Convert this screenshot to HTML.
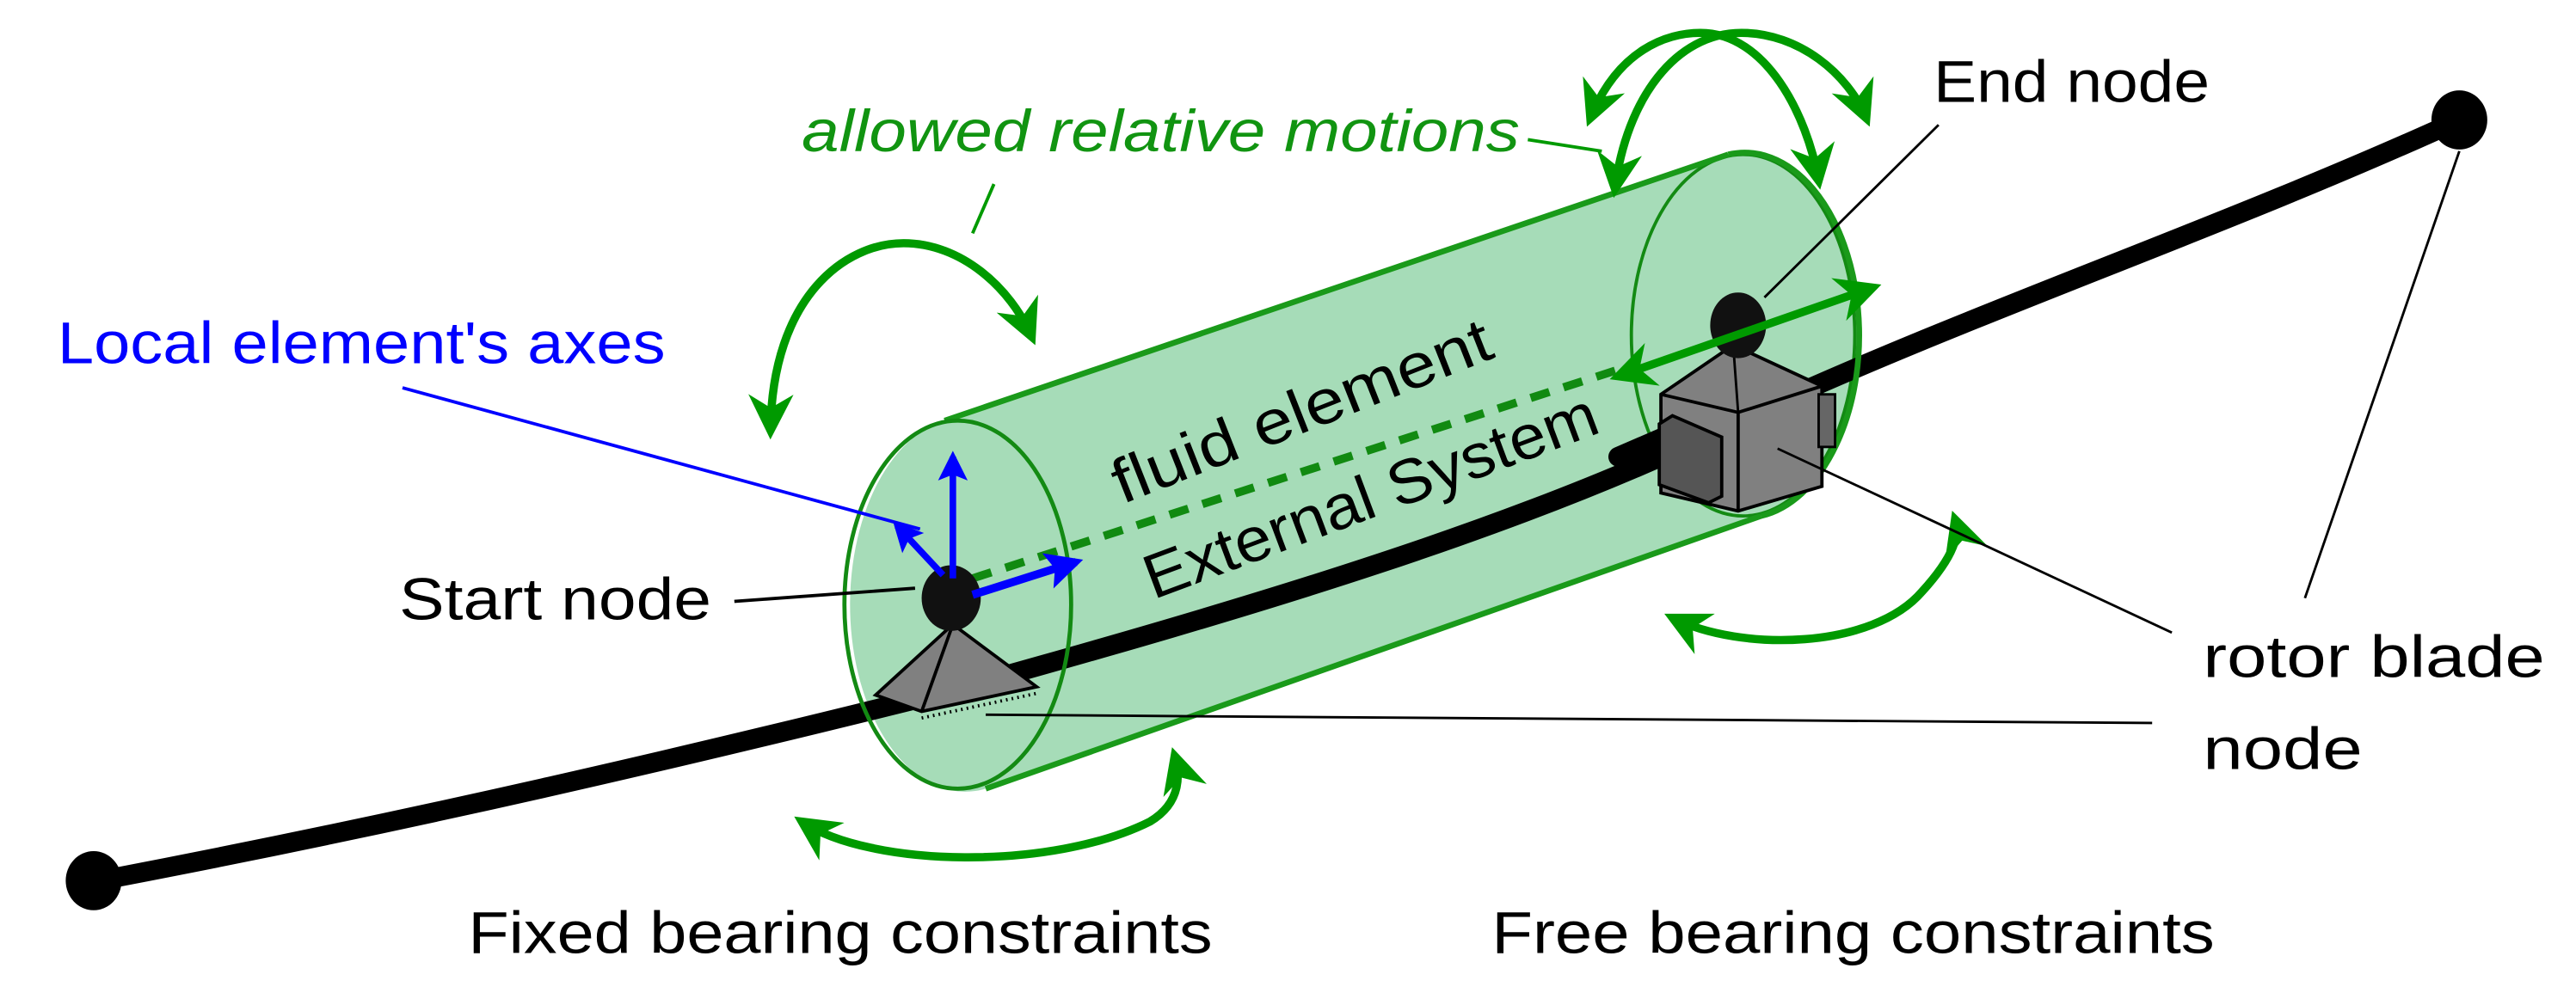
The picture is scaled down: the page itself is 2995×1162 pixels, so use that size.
<!DOCTYPE html>
<html><head><meta charset="utf-8"><style>
html,body{margin:0;padding:0;background:#fff;}
svg{display:block;}
text{font-family:"Liberation Sans",sans-serif;}
</style></head><body>
<svg width="2995" height="1162" viewBox="0 0 1568 608" preserveAspectRatio="none" xmlns="http://www.w3.org/2000/svg">
<defs>
<marker id="ga" viewBox="0 0 10 10" refX="8" refY="5" markerWidth="6.5" markerHeight="5.5" orient="auto-start-reverse" markerUnits="strokeWidth">
<path d="M0,0 L10,5 L0,10 L3,5 Z" fill="#009a00"/></marker>
<marker id="ba" viewBox="0 0 10 10" refX="8" refY="5" markerWidth="5.5" markerHeight="4.5" orient="auto" markerUnits="strokeWidth">
<path d="M0,0 L10,5 L0,10 L2,5 Z" fill="#0000ff"/></marker>
</defs>

<path d="M575,256 L1052,94 A69,110 0 0 1 1072,314 L600,480 A69,112 0 0 1 575,256 Z" fill="#a6dcb8"/>
<ellipse cx="1061" cy="204" rx="68" ry="110" fill="none" stroke="#138a13" stroke-width="2"/>
<path d="M55,537 C250,500 420,460 580,420 C760,370 930,320 1060,255 C1200,190 1350,140 1497,73" fill="none" stroke="#000" stroke-width="12" stroke-linecap="round"/>
<ellipse cx="57" cy="536" rx="17" ry="18" fill="#000"/>
<ellipse cx="1497" cy="73" rx="17" ry="18" fill="#000"/>
<path d="M575,256 L1052,94" stroke="#1a9a1a" stroke-width="3.5" fill="none"/>
<path d="M600,480 L1072,314" stroke="#1a9a1a" stroke-width="3.5" fill="none"/>
<path d="M1052,94 A69,110 0 0 1 1072,314" stroke="#1a9a1a" stroke-width="3.5" fill="none"/>
<ellipse cx="583" cy="368" rx="69" ry="112" fill="none" stroke="#138a13" stroke-width="2.5"/>

<line x1="592" y1="352" x2="985" y2="225" stroke="#118a11" stroke-width="5" stroke-dasharray="12,9"/>

<text x="683" y="307" font-size="38" transform="rotate(-21.5 683 307)" textLength="245" lengthAdjust="spacingAndGlyphs">fluid element</text>
<text x="702" y="365" font-size="38" transform="rotate(-20.5 702 365)" textLength="292" lengthAdjust="spacingAndGlyphs">External System</text>

<polygon points="580,380 533,423 561,433 631,418" fill="#808080" stroke="#000" stroke-width="2"/>
<line x1="580" y1="380" x2="561" y2="433" stroke="#000" stroke-width="2"/>
<path d="M561,433 L631,418" stroke="#000" stroke-width="2" stroke-dasharray="1,2.5" transform="translate(0,4)"/>
<ellipse cx="579" cy="364" rx="18" ry="20" fill="#111"/>
<line x1="580" y1="352" x2="580" y2="278" stroke="#0000ff" stroke-width="4" marker-end="url(#ba)"/>
<line x1="574" y1="350" x2="546" y2="320" stroke="#0000ff" stroke-width="4" marker-end="url(#ba)"/>
<line x1="592" y1="362" x2="655" y2="342" stroke="#0000ff" stroke-width="5" marker-end="url(#ba)"/>

<polygon points="1011,240 1055,210 1109,235 1109,296 1058,311 1011,300" fill="#808080" stroke="#000" stroke-width="2"/>
<polyline points="1011,240 1058,251 1109,235" fill="none" stroke="#000" stroke-width="2"/>
<line x1="1058" y1="251" x2="1058" y2="311" stroke="#000" stroke-width="2"/>
<line x1="1055" y1="210" x2="1058" y2="251" stroke="#000" stroke-width="1.5"/>
<path d="M985,278 L1015,265" stroke="#000" stroke-width="12" stroke-linecap="round"/>
<polygon points="1010,258 1018,253 1048,266 1048,302 1040,306 1010,295" fill="#555" stroke="#000" stroke-width="2"/>
<rect x="1107" y="240" width="10" height="32" fill="#666" stroke="#000" stroke-width="1.5"/>
<ellipse cx="1058" cy="198" rx="17" ry="20" fill="#111"/>

<line x1="985" y1="229" x2="1140" y2="175" stroke="#009a00" stroke-width="5" marker-start="url(#ga)" marker-end="url(#ga)"/>

<g fill="none" stroke="#009a00" stroke-width="5">
<path d="M469,262 C470,180 515,148 550,148 C585,148 615,175 628,205" marker-start="url(#ga)" marker-end="url(#ga)"/>
<path d="M968,72 C985,30 1015,20 1035,20 C1075,20 1100,70 1107,110" marker-start="url(#ga)" marker-end="url(#ga)"/>
<path d="M983,115 C990,60 1020,20 1060,20 C1095,20 1125,45 1136,72" marker-start="url(#ga)" marker-end="url(#ga)"/>
<path d="M488,500 C530,528 640,530 700,500 C720,488 718,470 715,460" marker-start="url(#ga)" marker-end="url(#ga)"/>
<path d="M1018,376 C1060,397 1140,395 1170,360 C1190,338 1193,325 1190,316" marker-start="url(#ga)" marker-end="url(#ga)"/>
</g>

<line x1="930" y1="85" x2="975" y2="92" stroke="#009a00" stroke-width="2"/>
<line x1="605" y1="112" x2="592" y2="142" stroke="#009a00" stroke-width="2"/>
<line x1="245" y1="236" x2="560" y2="322" stroke="#0000ff" stroke-width="2"/>
<line x1="447" y1="366" x2="557" y2="358" stroke="#000" stroke-width="2"/>
<line x1="1180" y1="76" x2="1074" y2="181" stroke="#000" stroke-width="1.5"/>
<line x1="1497" y1="92" x2="1403" y2="364" stroke="#000" stroke-width="1.5"/>
<line x1="1082" y1="273" x2="1322" y2="385" stroke="#000" stroke-width="1.5"/>
<line x1="600" y1="435" x2="1310" y2="440" stroke="#000" stroke-width="1.5"/>

<text x="488" y="92" font-size="36" font-style="italic" fill="#119411" textLength="437" lengthAdjust="spacingAndGlyphs">allowed relative motions</text>
<text x="35" y="221" font-size="36" fill="#0000ff" textLength="370" lengthAdjust="spacingAndGlyphs">Local element's axes</text>
<text x="243" y="377" font-size="36" textLength="190" lengthAdjust="spacingAndGlyphs">Start node</text>
<text x="1177" y="62" font-size="36" textLength="168" lengthAdjust="spacingAndGlyphs">End node</text>
<text x="1341" y="412" font-size="36" textLength="208" lengthAdjust="spacingAndGlyphs">rotor blade</text>
<text x="1341" y="468" font-size="36" textLength="97" lengthAdjust="spacingAndGlyphs">node</text>
<text x="285" y="580" font-size="36" textLength="453" lengthAdjust="spacingAndGlyphs">Fixed bearing constraints</text>
<text x="908" y="580" font-size="36" textLength="440" lengthAdjust="spacingAndGlyphs">Free bearing constraints</text>
</svg>
</body></html>
